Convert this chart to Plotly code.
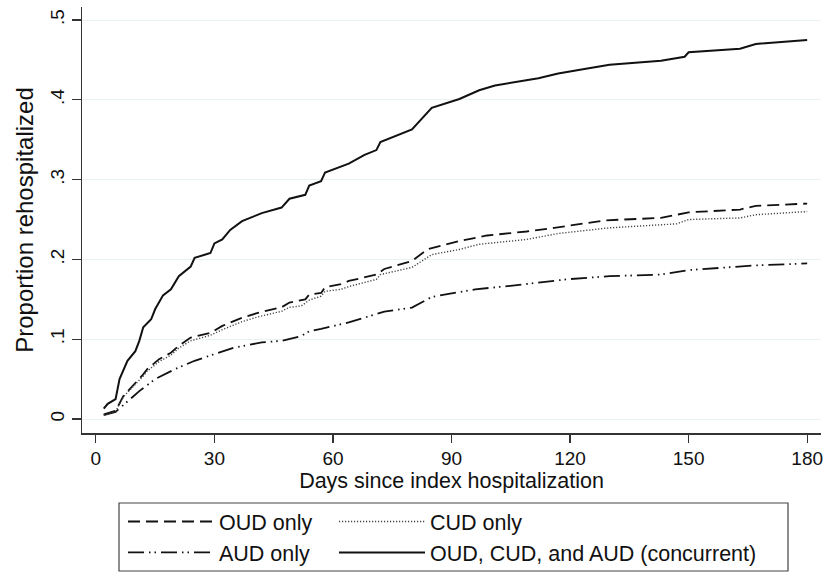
import plotly.graph_objects as go

# ---- data ----
days_oud = [2, 5, 7, 9, 12, 13, 16, 19, 21, 24, 29, 32, 37, 41, 47, 49, 53, 54, 57, 58,
            62, 64, 71, 73, 80, 84, 92, 99, 109, 116, 129, 143, 150, 163, 167, 180]
vals_oud = [0.006, 0.0104, 0.029, 0.0396, 0.056, 0.0625, 0.075, 0.083, 0.0917, 0.102,
            0.108, 0.1167, 0.127, 0.133, 0.14, 0.146, 0.15, 0.156, 0.158, 0.165,
            0.169, 0.173, 0.181, 0.188, 0.198, 0.213, 0.223, 0.23, 0.235, 0.2396,
            0.249, 0.252, 0.259, 0.2625, 0.267, 0.27]

days_cud = [2, 5, 7, 9, 12, 13, 16, 19, 21, 24, 29, 32, 37, 41, 47, 49, 52, 54, 57, 58,
            62, 64, 71, 72, 80, 85, 92, 97, 109, 117, 130, 147, 150, 163, 167, 180]
vals_cud = [0.005, 0.0095, 0.028, 0.038, 0.054, 0.06, 0.072, 0.08, 0.089, 0.098,
            0.105, 0.112, 0.122, 0.128, 0.135, 0.14, 0.1417, 0.149, 0.154, 0.16,
            0.1625, 0.166, 0.175, 0.181, 0.19, 0.206, 0.2125, 0.219, 0.225, 0.2325,
            0.2396, 0.2446, 0.25, 0.252, 0.256, 0.26]

days_aud = [2, 5, 8, 11, 15, 20, 25, 30, 35, 42, 47, 52, 54, 57, 62, 64, 73, 80, 85,
            96, 106, 119, 130, 143, 150, 161, 167, 180]
vals_aud = [0.005, 0.009, 0.022, 0.035, 0.05, 0.0625, 0.073, 0.081, 0.0896, 0.096,
            0.098, 0.104, 0.110, 0.113, 0.119, 0.121, 0.1346, 0.1396, 0.153, 0.1625,
            0.1675, 0.175, 0.179, 0.181, 0.1867, 0.19, 0.1925, 0.195]

days_all = [2, 3, 5, 6, 8, 10, 11, 12, 14, 15, 17, 19, 21, 24, 25, 29, 30, 32, 34, 37,
            42, 47, 49, 53, 54, 57, 58, 62, 64, 68, 71, 72, 77, 80, 85, 92, 97, 101,
            112, 117, 124, 130, 143, 149, 150, 163, 167, 175, 180]
vals_all = [0.013, 0.019, 0.025, 0.05, 0.073, 0.085, 0.098, 0.115, 0.125, 0.1375,
            0.155, 0.1625, 0.179, 0.191, 0.202, 0.208, 0.22, 0.225, 0.237, 0.248,
            0.258, 0.265, 0.276, 0.281, 0.2925, 0.298, 0.309, 0.317, 0.32, 0.331,
            0.337, 0.347, 0.3575, 0.363, 0.39, 0.401, 0.412, 0.418, 0.427, 0.433,
            0.439, 0.444, 0.449, 0.454, 0.4596, 0.464, 0.47, 0.473, 0.475]

x_ticks = [0, 30, 60, 90, 120, 150, 180]
y_ticks = [0, 0.1, 0.2, 0.3, 0.4, 0.5]
y_tick_labels = ["0", ".1", ".2", ".3", ".4", ".5"]

FONT = "Liberation Sans, Arial, sans-serif"

fig = go.Figure()
fig.add_trace(go.Scatter(x=days_oud, y=vals_oud, mode="lines", name="OUD only",
                         line=dict(color="#111", width=1.8, dash="12px,6px"),
                         legend="legend", legendgroup="a"))
fig.add_trace(go.Scatter(x=days_aud, y=vals_aud, mode="lines", name="AUD only",
                         line=dict(color="#111", width=1.8, dash="16px,5px,1.5px,4px,1.5px,5px"),
                         legend="legend", legendgroup="b"))
fig.add_trace(go.Scatter(x=days_cud, y=vals_cud, mode="lines", name="CUD only",
                         line=dict(color="#444", width=1.4, dash="1.2px,1.8px"),
                         legend="legend2", legendgroup="c"))
fig.add_trace(go.Scatter(x=days_all, y=vals_all, mode="lines",
                         name="OUD, CUD, and AUD (concurrent)",
                         line=dict(color="#111", width=2),
                         legend="legend2", legendgroup="d"))

leg_common = dict(orientation="v", bgcolor="rgba(0,0,0,0)", borderwidth=0,
                  font=dict(family=FONT, size=21.5, color="#111"),
                  itemwidth=86, tracegroupgap=2, xanchor="left", yanchor="top",
                  traceorder="normal", itemclick=False, itemdoubleclick=False)

fig.update_layout(
    width=830, height=576,
    margin=dict(l=82, r=9, t=7, b=143, autoexpand=False),
    plot_bgcolor="white", paper_bgcolor="white",
    font=dict(family=FONT, size=19, color="#111"),
    showlegend=True,
    legend=dict(x=(123 - 82) / 739, y=(433 - 501) / 426, **leg_common),
    legend2=dict(x=(334 - 82) / 739, y=(433 - 501) / 426, **leg_common),
    xaxis=dict(
        range=[-3.5, 183.5], tickmode="array", tickvals=x_ticks,
        showline=True, linecolor="#333", linewidth=1.5, mirror=False,
        ticks="outside", ticklen=8, tickwidth=1.3, tickcolor="#333",
        showgrid=False, zeroline=False,
        tickfont=dict(size=19),
        title=dict(text="Days since index hospitalization", font=dict(size=21.5), standoff=0),
    ),
    yaxis=dict(
        range=[-0.0175, 0.5163], tickmode="array", tickvals=y_ticks, ticktext=y_tick_labels,
        tickangle=-90,
        showline=True, linecolor="#333", linewidth=1.5, mirror=False,
        ticks="outside", ticklen=9, tickwidth=1.3, tickcolor="#333",
        showgrid=True, gridcolor="#e9f1f3", gridwidth=1, zeroline=False,
        tickfont=dict(size=19),
        title=dict(text="Proportion rehospitalized", font=dict(size=24), standoff=6),
    ),
    shapes=[dict(type="rect", xref="paper", yref="paper",
                 x0=(119 - 82) / 739, x1=(788 - 82) / 739,
                 y0=(433 - 571) / 426, y1=(433 - 503) / 426,
                 line=dict(color="#444", width=1.2), fillcolor="rgba(0,0,0,0)")],
)

fig.write_html("out.html",
               config={"displayModeBar": False, "staticPlot": True},
               post_script="document.body.style.margin='0px';document.body.style.overflow='hidden';")
